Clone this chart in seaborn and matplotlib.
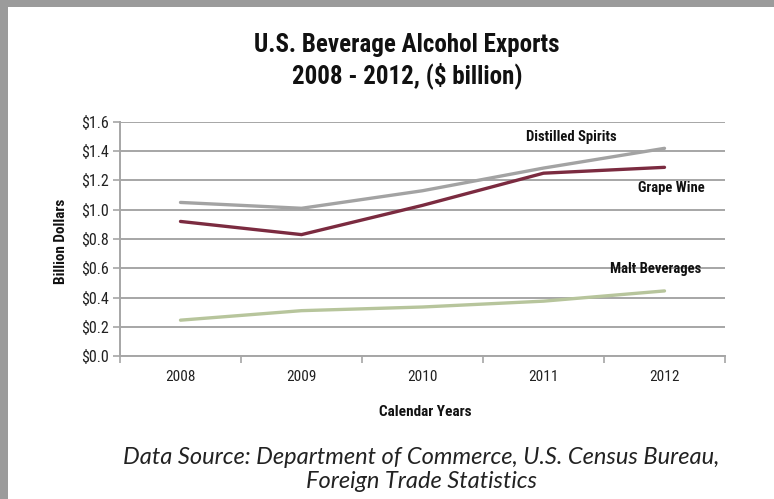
import os
import numpy as np
import pandas as pd
import matplotlib
matplotlib.use("Agg")
import matplotlib.pyplot as plt
from matplotlib import font_manager as fm
from matplotlib.patches import Rectangle
import seaborn as sns

years = ["2008", "2009", "2010", "2011", "2012"]
distilled_spirits = [1.05, 1.01, 1.13, 1.285, 1.42]
grape_wine = [0.92, 0.83, 1.03, 1.25, 1.29]
malt_beverages = [0.245, 0.31, 0.335, 0.375, 0.445]
series_names = ["Distilled Spirits", "Grape Wine", "Malt Beverages"]
y_ticks = [0.0, 0.2, 0.4, 0.6, 0.8, 1.0, 1.2, 1.4, 1.6]

colors = {"Distilled Spirits": "#a3a3a3", "Grape Wine": "#7b2b40", "Malt Beverages": "#b7c59c"}

rows = []
for name, vals in zip(series_names, [distilled_spirits, grape_wine, malt_beverages]):
    for i, v in enumerate(vals):
        rows.append({"pos": i, "value": v, "series": name})
df = pd.DataFrame(rows)

sns.set_theme(style="white")

files = {os.path.basename(f.fname).lower(): f.fname for f in fm.fontManager.ttflist}

def find_font(cands, fallback_weight):
    for c in cands:
        for b, full in files.items():
            if b.startswith(c):
                return fm.FontProperties(fname=full), c
    return fm.FontProperties(family="DejaVu Sans", weight=fallback_weight), None

fp_bold, bold_name = find_font(["notosans-extracondensedbold", "notosans-condensedbold",
                                "robotocondensed-bold", "roboto_condensed-bold",
                                "liberationsansnarrow-bold", "opensans-condbold",
                                "dejavusanscondensed-bold"], "bold")
fp_reg, reg_name = find_font(["notosans-extracondensed.", "notosans-condensed.",
                              "robotocondensed-regular", "roboto_condensed-regular",
                              "liberationsansnarrow-regular", "opensans-condlight",
                              "dejavusanscondensed."], "normal")

def fpc(base, size):
    p = base.copy()
    p.set_size(size)
    return p

fig = plt.figure(figsize=(7.74, 4.99), dpi=100)
fig.patch.set_facecolor("white")
ax = fig.add_axes([120 / 774, 1 - 356 / 499, 605 / 774, 234 / 499])

sns.lineplot(data=df, x="pos", y="value", hue="series", palette=colors,
             linewidth=2.4, ax=ax, legend=False, sort=False)

ax.set_xlim(-0.5, 4.5)
ax.set_ylim(0, 1.6)
ax.set_yticks(y_ticks)
ax.set_yticklabels([f"${t:.1f}" for t in y_ticks], fontproperties=fpc(fp_reg, 11.5))
ax.set_xticks(np.arange(-0.5, 5, 1))
ax.set_xticklabels([])
ax.set_xticks(range(len(years)), minor=True)
ax.set_xticklabels(years, minor=True, fontproperties=fpc(fp_reg, 11))
ax.tick_params(axis="x", which="major", length=5, width=1.2, color="#a6a6a6", direction="out", bottom=True)
ax.tick_params(axis="x", which="minor", length=0, pad=10, colors="#222222")
ax.tick_params(axis="y", length=5, width=1.2, color="#a6a6a6", direction="out", left=True, pad=3, labelcolor="#222222")

ax.grid(axis="y", color="#a6a6a6", linewidth=1.4)
ax.set_axisbelow(True)
for s in ["top", "right"]:
    ax.spines[s].set_visible(False)
for s in ["left", "bottom"]:
    ax.spines[s].set_color("#a6a6a6")
    ax.spines[s].set_linewidth(1.4)

ax.set_xlabel("")
ax.set_ylabel("")

# series labels
ax.text(3.23, 1.5, "Distilled Spirits", fontproperties=fpc(fp_bold, 10.5), ha="center", va="center", color="#111111")
ax.text(4.06, 1.15, "Grape Wine", fontproperties=fpc(fp_bold, 10.5), ha="center", va="center", color="#111111")
ax.text(3.93, 0.595, "Malt Beverages", fontproperties=fpc(fp_bold, 10.5), ha="center", va="center", color="#111111")

# titles and labels
fig.text(407 / 774, 1 - 45 / 499, "U.S. Beverage Alcohol Exports", fontproperties=fpc(fp_bold, 18),
         ha="center", va="center", color="#111111")
fig.text(407 / 774, 1 - 76 / 499, "2008 - 2012, ($ billion)", fontproperties=fpc(fp_bold, 18),
         ha="center", va="center", color="#111111")
fig.text(61 / 774, 1 - 241 / 499, "Billion Dollars", fontproperties=fpc(fp_bold, 11),
         ha="center", va="center", rotation=90, color="#111111")
fig.text(425 / 774, 1 - 412 / 499, "Calendar Years", fontproperties=fpc(fp_bold, 11),
         ha="center", va="center", color="#111111")
fig.text(421 / 774, 1 - 457 / 499, "Data Source: Department of Commerce, U.S. Census Bureau,",
         family="Lato", style="italic", fontsize=17, ha="center", va="center", color="#222222")
fig.text(421 / 774, 1 - 481 / 499, "Foreign Trade Statistics",
         family="Lato", style="italic", fontsize=17, ha="center", va="center", color="#222222")

# gray frame strips
fig.patches.append(Rectangle((0, 1 - 7 / 499), 1, 7 / 499, transform=fig.transFigure,
                             facecolor="#9b9b9b", edgecolor="none", zorder=10))
fig.patches.append(Rectangle((0, 0), 8 / 774, 1, transform=fig.transFigure,
                             facecolor="#9b9b9b", edgecolor="none", zorder=10))

fig.savefig("out.png", dpi=100, facecolor="white")
